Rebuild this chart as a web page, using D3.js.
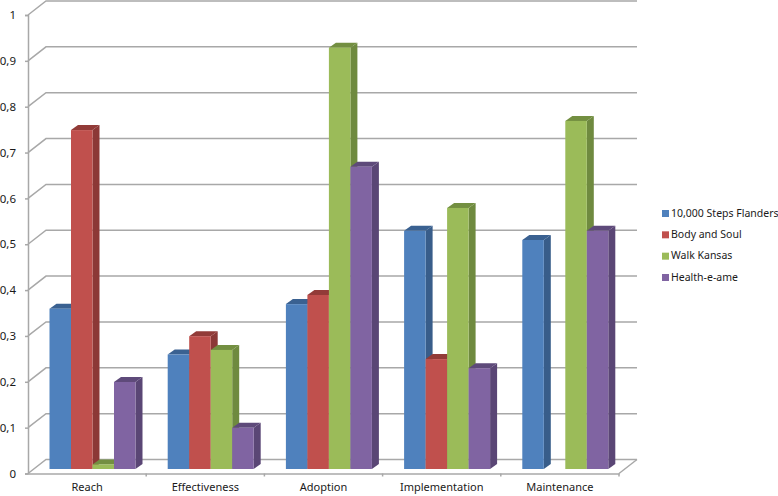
<!DOCTYPE html>
<html>
<head>
<meta charset="utf-8">
<script src="https://cdn.jsdelivr.net/npm/d3@7"></script>
<style>
  html, body { margin: 0; padding: 0; background: #fff; }
  svg { display: block; }
  text { font-family: "Noto Sans", sans-serif; fill: #1a1a1a; }
</style>
</head>
<body>
<div id="chart"></div>
<script>
const categories = ["Reach", "Effectiveness", "Adoption", "Implementation", "Maintenance"]
const series_names = ["10,000 Steps Flanders", "Body and Soul", "Walk Kansas", "Health-e-ame"]
const steps_flanders = [0.35, 0.25, 0.36, 0.52, 0.50]
const body_and_soul = [0.74, 0.29, 0.38, 0.24, null]
const walk_kansas = [0.01, 0.26, 0.92, 0.57, 0.76]
const health_e_ame = [0.19, 0.09, 0.66, 0.22, 0.52]
const y_ticks = [0, 0.1, 0.2, 0.3, 0.4, 0.5, 0.6, 0.7, 0.8, 0.9, 1]

const front_colors = ["#4f81bd", "#c0504d", "#9bbb59", "#8064a2"]
const side_colors = ["#385d8a", "#8c3836", "#6f8a3f", "#5a4675"]
const top_colors = ["#3a6191", "#923b38", "#738f41", "#5e4a7a"]

const width = 778
const height = 496
const axis_color = "#a8a8a8"

// depth of the floor and of each bar, in px
const wall_dx = 18
const wall_dy = -14
const bar_dx = 7
const bar_dy = -5

const all_values = [steps_flanders, body_and_soul, walk_kansas, health_e_ame]

const svg = d3.select("#chart").append("svg")
    .attr("width", width)
    .attr("height", height)
    .attr("viewBox", [0, 0, width, height])

const xScale = d3.scaleBand().domain(categories).range([28, 619])
const innerScale = d3.scaleBand().domain(series_names).range([21.5, 107.5])
const yScale = d3.scaleLinear().domain([0, 1]).range([473.5, 15])
// bars stand a little inside the floor
const barY = d3.scaleLinear().domain([0, 1]).range([469, 11])

const grid = svg.append("g")
    .attr("fill", "none")
    .attr("stroke", axis_color)
    .attr("stroke-width", 1.5)

for (const t of y_ticks) {
    grid.append("polyline")
        .attr("points", [
            [28, yScale(t)],
            [28 + wall_dx, yScale(t) + wall_dy],
            [619 + wall_dx, yScale(t) + wall_dy]
        ].join(" "))
}
// right edge of the floor
grid.append("polyline")
    .attr("points", [
        [619, yScale(0)],
        [619 + wall_dx, yScale(0) + wall_dy]
    ].join(" "))

categories.forEach((cat, i) => {
    series_names.forEach((name, s) => {
        const v = all_values[s][i]
        if (v === null) return
        const x0 = xScale(cat) + innerScale(name)
        const x1 = x0 + innerScale.bandwidth()
        const y0 = barY(0)
        const y1 = barY(v)
        const bar = svg.append("g")

        bar.append("polygon")
            .attr("fill", side_colors[s])
            .attr("points", [[x1, y0], [x1, y1], [x1 + bar_dx, y1 + bar_dy], [x1 + bar_dx, y0 + bar_dy]].join(" "))
        bar.append("polygon")
            .attr("fill", top_colors[s])
            .attr("points", [[x0, y1], [x0 + bar_dx, y1 + bar_dy], [x1 + bar_dx, y1 + bar_dy], [x1, y1]].join(" "))
        bar.append("rect")
            .attr("fill", front_colors[s])
            .attr("x", x0)
            .attr("y", y1)
            .attr("width", x1 - x0)
            .attr("height", y0 - y1)
    })
})

const yAxis = svg.append("g")
    .attr("transform", "translate(28,0)")
    .call(d3.axisLeft(yScale)
        .tickValues(y_ticks)
        .tickSize(3)
        .tickPadding(9)
        .tickFormat(d => String(d).replace(".", ",")))
yAxis.selectAll("text").style("font-size", "11.5px")

const xAxis = svg.append("g")
    .attr("transform", `translate(0,${yScale(0)})`)
    .call(d3.axisBottom(xScale).tickSize(0).tickPadding(10))
xAxis.selectAll("text").style("font-size", "11px")

// tick marks sit between the categories
xAxis.selectAll(".sep")
    .data(categories)
    .join("line")
    .attr("class", "sep")
    .attr("x1", d => xScale(d) + xScale.bandwidth())
    .attr("x2", d => xScale(d) + xScale.bandwidth())
    .attr("y1", 0)
    .attr("y2", 3)
    .attr("stroke", axis_color)
    .attr("stroke-width", 1.5)

svg.selectAll(".domain, .tick line")
    .attr("stroke", axis_color)
    .attr("stroke-width", 1.5)

const legendY = d3.scalePoint().domain(series_names).range([213, 277])
const legend = svg.append("g")
series_names.forEach((name, s) => {
    legend.append("rect")
        .attr("x", 662)
        .attr("y", legendY(name) - 3)
        .attr("width", 7)
        .attr("height", 7)
        .attr("fill", front_colors[s])
    legend.append("text")
        .attr("x", 671)
        .attr("y", legendY(name))
        .attr("dy", "0.35em")
        .style("font-size", "10.5px")
        .text(name)
})
</script>
</body>
</html>
